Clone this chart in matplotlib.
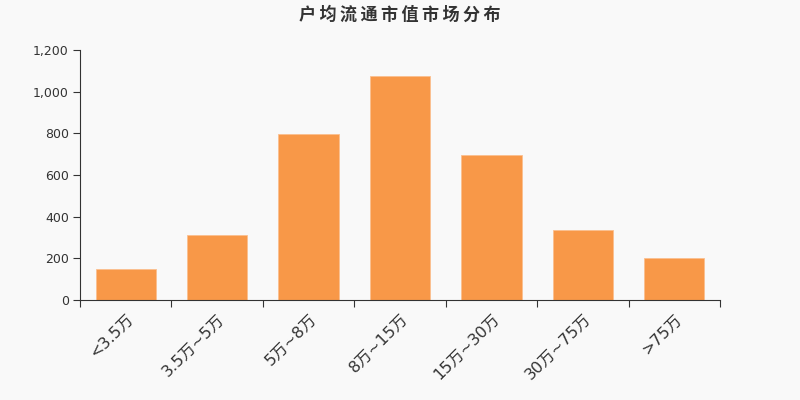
import matplotlib.pyplot as plt
from matplotlib.ticker import FuncFormatter

plt.rcParams['font.family'] = ['DejaVu Sans', 'Noto Sans CJK SC']

categories = ['<3.5万', '3.5万~5万', '5万~8万', '8万~15万', '15万~30万', '30万~75万', '>75万']
values = [148, 312, 797, 1075, 696, 336, 204]
title = '户均流通市值市场分布'

bg = '#f9f9f9'
bar_color = '#f89848'
text_color = '#333333'

fig = plt.figure(figsize=(8, 4), dpi=100, facecolor=bg)
ax = fig.add_axes([0.1, 0.25, 0.8, 0.625], facecolor=bg)

x = range(len(categories))
ax.bar(x, values, width=0.66, color=bar_color, edgecolor='#fbbf8f', linewidth=0.6)

ax.set_xlim(-0.5, len(categories) - 0.5)
ax.set_ylim(0, 1200)
ax.set_yticks(range(0, 1201, 200))
ax.yaxis.set_major_formatter(FuncFormatter(lambda v, p: f'{int(v):,}'))

ax.set_xticks(list(x))
ax.set_xticklabels(categories, rotation=45, ha='right', rotation_mode='anchor',
                   fontsize=11.5, color=text_color)
ax.set_xticks([i - 0.5 for i in range(len(categories) + 1)], minor=True)
ax.tick_params(axis='x', which='major', length=0, pad=8)
ax.tick_params(axis='x', which='minor', length=5, color=text_color, width=0.8)
ax.tick_params(axis='y', length=5, color=text_color, width=0.8, labelsize=9,
               labelcolor=text_color, pad=3)

for s in ['top', 'right']:
    ax.spines[s].set_visible(False)
for s in ['left', 'bottom']:
    ax.spines[s].set_color(text_color)
    ax.spines[s].set_linewidth(0.8)

fig.text(0.5, 0.962, '\u2009'.join(title), ha='center', va='center', fontsize=12.3,
         fontweight='bold', color=text_color)

fig.savefig('out.png', dpi=100, facecolor=bg)
